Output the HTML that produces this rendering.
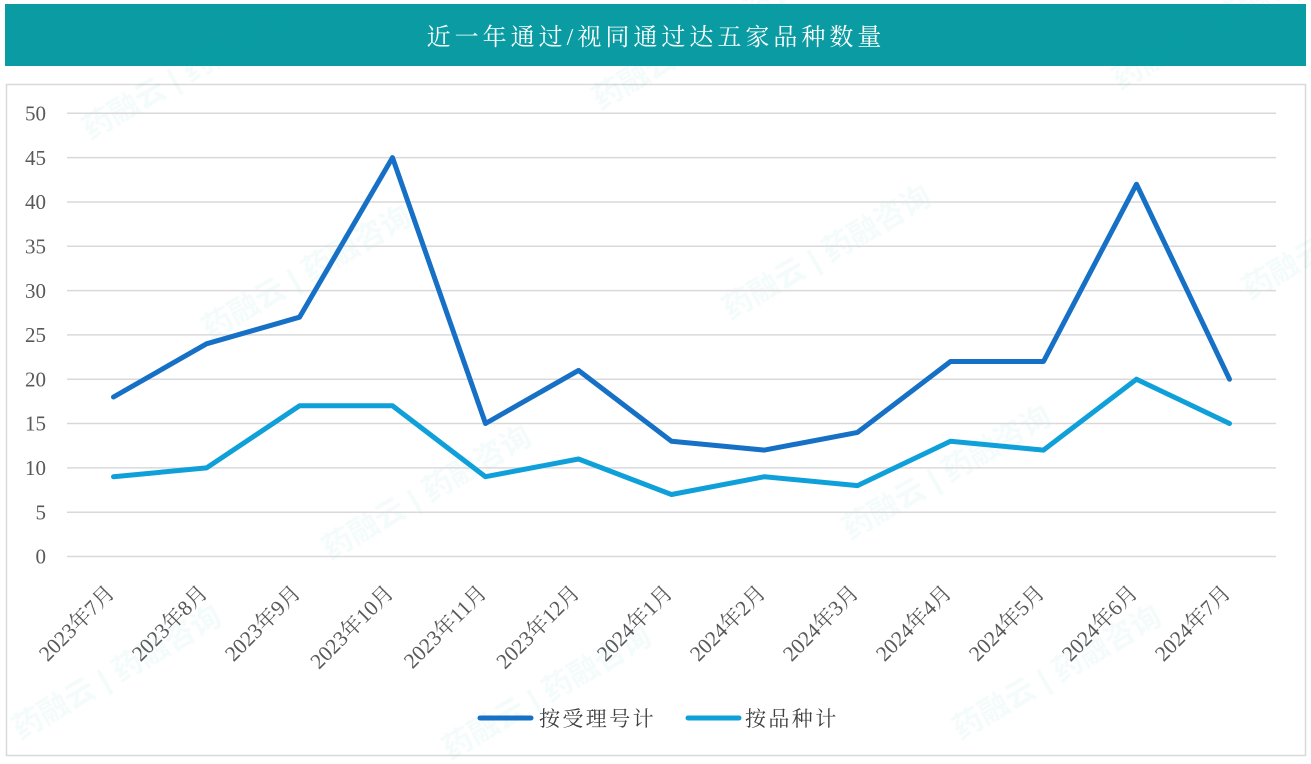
<!DOCTYPE html>
<html>
<head>
<meta charset="utf-8">
<style>
  html,body{margin:0;padding:0;background:#fff;}
  body{width:1311px;height:764px;overflow:hidden;position:relative;}
  svg{position:absolute;left:0;top:0;}
</style>
</head>
<body>
<svg width="1311" height="764" viewBox="0 0 1311 764" xmlns="http://www.w3.org/2000/svg">
  <rect x="0" y="0" width="1311" height="764" fill="#ffffff"/>
  <!-- title bar -->
  <rect x="5" y="4" width="1301" height="62" fill="#0A9CA2"/>
  <text x="656" y="45" text-anchor="middle" fill="#ffffff" font-family="'Liberation Serif','Noto Serif CJK SC',serif" font-size="24" letter-spacing="4">近一年通过/视同通过达五家品种数量</text>

  <!-- chart border -->
  <rect x="6.5" y="84.5" width="1299" height="671" fill="none" stroke="#D9D9D9" stroke-width="1.5"/>

  <!-- faint watermarks -->
  <g fill="#0A9CA2" opacity="0.045" font-family="'Liberation Sans','Noto Sans CJK SC',sans-serif" font-size="30" font-weight="bold">
    <text transform="translate(90,140) rotate(-30)">药融云 | 药融咨询</text>
    <text transform="translate(210,340) rotate(-30)">药融云 | 药融咨询</text>
    <text transform="translate(730,320) rotate(-30)">药融云 | 药融咨询</text>
    <text transform="translate(1250,300) rotate(-30)">药融云 | 药融咨询</text>
    <text transform="translate(330,560) rotate(-30)">药融云 | 药融咨询</text>
    <text transform="translate(850,540) rotate(-30)">药融云 | 药融咨询</text>
    <text transform="translate(20,740) rotate(-30)">药融云 | 药融咨询</text>
    <text transform="translate(450,760) rotate(-30)">药融云 | 药融咨询</text>
    <text transform="translate(960,740) rotate(-30)">药融云 | 药融咨询</text>
    <text transform="translate(1120,90) rotate(-30)">药融云 | 药融咨询</text>
    <text transform="translate(600,110) rotate(-30)">药融云 | 药融咨询</text>
  </g>

  <!-- gridlines -->
  <g stroke="#D9D9D9" stroke-width="1.5">
    <line x1="67" y1="113.3" x2="1276" y2="113.3"/>
    <line x1="67" y1="157.6" x2="1276" y2="157.6"/>
    <line x1="67" y1="202.0" x2="1276" y2="202.0"/>
    <line x1="67" y1="246.3" x2="1276" y2="246.3"/>
    <line x1="67" y1="290.6" x2="1276" y2="290.6"/>
    <line x1="67" y1="334.9" x2="1276" y2="334.9"/>
    <line x1="67" y1="379.2" x2="1276" y2="379.2"/>
    <line x1="67" y1="423.5" x2="1276" y2="423.5"/>
    <line x1="67" y1="467.9" x2="1276" y2="467.9"/>
    <line x1="67" y1="512.2" x2="1276" y2="512.2"/>
    <line x1="67" y1="556.5" x2="1276" y2="556.5"/>
  </g>

  <!-- y labels -->
  <g fill="#595959" font-family="'Liberation Serif',serif" font-size="21" text-anchor="end">
    <text x="46" y="120.5">50</text>
    <text x="46" y="164.8">45</text>
    <text x="46" y="209.2">40</text>
    <text x="46" y="253.5">35</text>
    <text x="46" y="297.8">30</text>
    <text x="46" y="342.1">25</text>
    <text x="46" y="386.4">20</text>
    <text x="46" y="430.7">15</text>
    <text x="46" y="475.1">10</text>
    <text x="46" y="519.4">5</text>
    <text x="46" y="563.7">0</text>
  </g>

  <!-- x labels -->
  <g fill="#595959" font-family="'Liberation Serif','Noto Serif CJK SC',serif" font-size="21.5" text-anchor="end">
    <text transform="translate(116,594) rotate(-45)">2023年7月</text>
    <text transform="translate(209,594) rotate(-45)">2023年8月</text>
    <text transform="translate(302,594) rotate(-45)">2023年9月</text>
    <text transform="translate(395,594) rotate(-45)">2023年10月</text>
    <text transform="translate(488,594) rotate(-45)">2023年11月</text>
    <text transform="translate(581,594) rotate(-45)">2023年12月</text>
    <text transform="translate(674,594) rotate(-45)">2024年1月</text>
    <text transform="translate(767,594) rotate(-45)">2024年2月</text>
    <text transform="translate(860,594) rotate(-45)">2024年3月</text>
    <text transform="translate(953,594) rotate(-45)">2024年4月</text>
    <text transform="translate(1046,594) rotate(-45)">2024年5月</text>
    <text transform="translate(1139,594) rotate(-45)">2024年6月</text>
    <text transform="translate(1232,594) rotate(-45)">2024年7月</text>
  </g>

  <!-- series 2: 按品种计 -->
  <polyline fill="none" stroke="#0FA0DA" stroke-width="5" stroke-linejoin="round" stroke-linecap="round"
    points="113.5,476.7 206.5,467.9 299.5,405.8 392.5,405.8 485.5,476.7 578.5,459.0 671.5,494.5 764.5,476.7 857.5,485.6 950.5,441.3 1043.5,450.1 1136.5,379.2 1229.5,423.5"/>

  <!-- series 1: 按受理号计 -->
  <polyline fill="none" stroke="#1570C6" stroke-width="5" stroke-linejoin="round" stroke-linecap="round"
    points="113.5,397.0 206.5,343.8 299.5,317.2 392.5,157.6 485.5,423.5 578.5,370.4 671.5,441.3 764.5,450.1 857.5,432.4 950.5,361.5 1043.5,361.5 1136.5,184.2 1229.5,379.2"/>

  <!-- legend -->
  <line x1="480" y1="718" x2="531" y2="718" stroke="#1570C6" stroke-width="5" stroke-linecap="round"/>
  <text x="539" y="726" fill="#404040" font-family="'Liberation Serif','Noto Serif CJK SC',serif" font-size="21" letter-spacing="2.4">按受理号计</text>
  <line x1="688" y1="718" x2="739" y2="718" stroke="#0FA0DA" stroke-width="5" stroke-linecap="round"/>
  <text x="745" y="726" fill="#404040" font-family="'Liberation Serif','Noto Serif CJK SC',serif" font-size="21" letter-spacing="2.4">按品种计</text>
</svg>
</body>
</html>
